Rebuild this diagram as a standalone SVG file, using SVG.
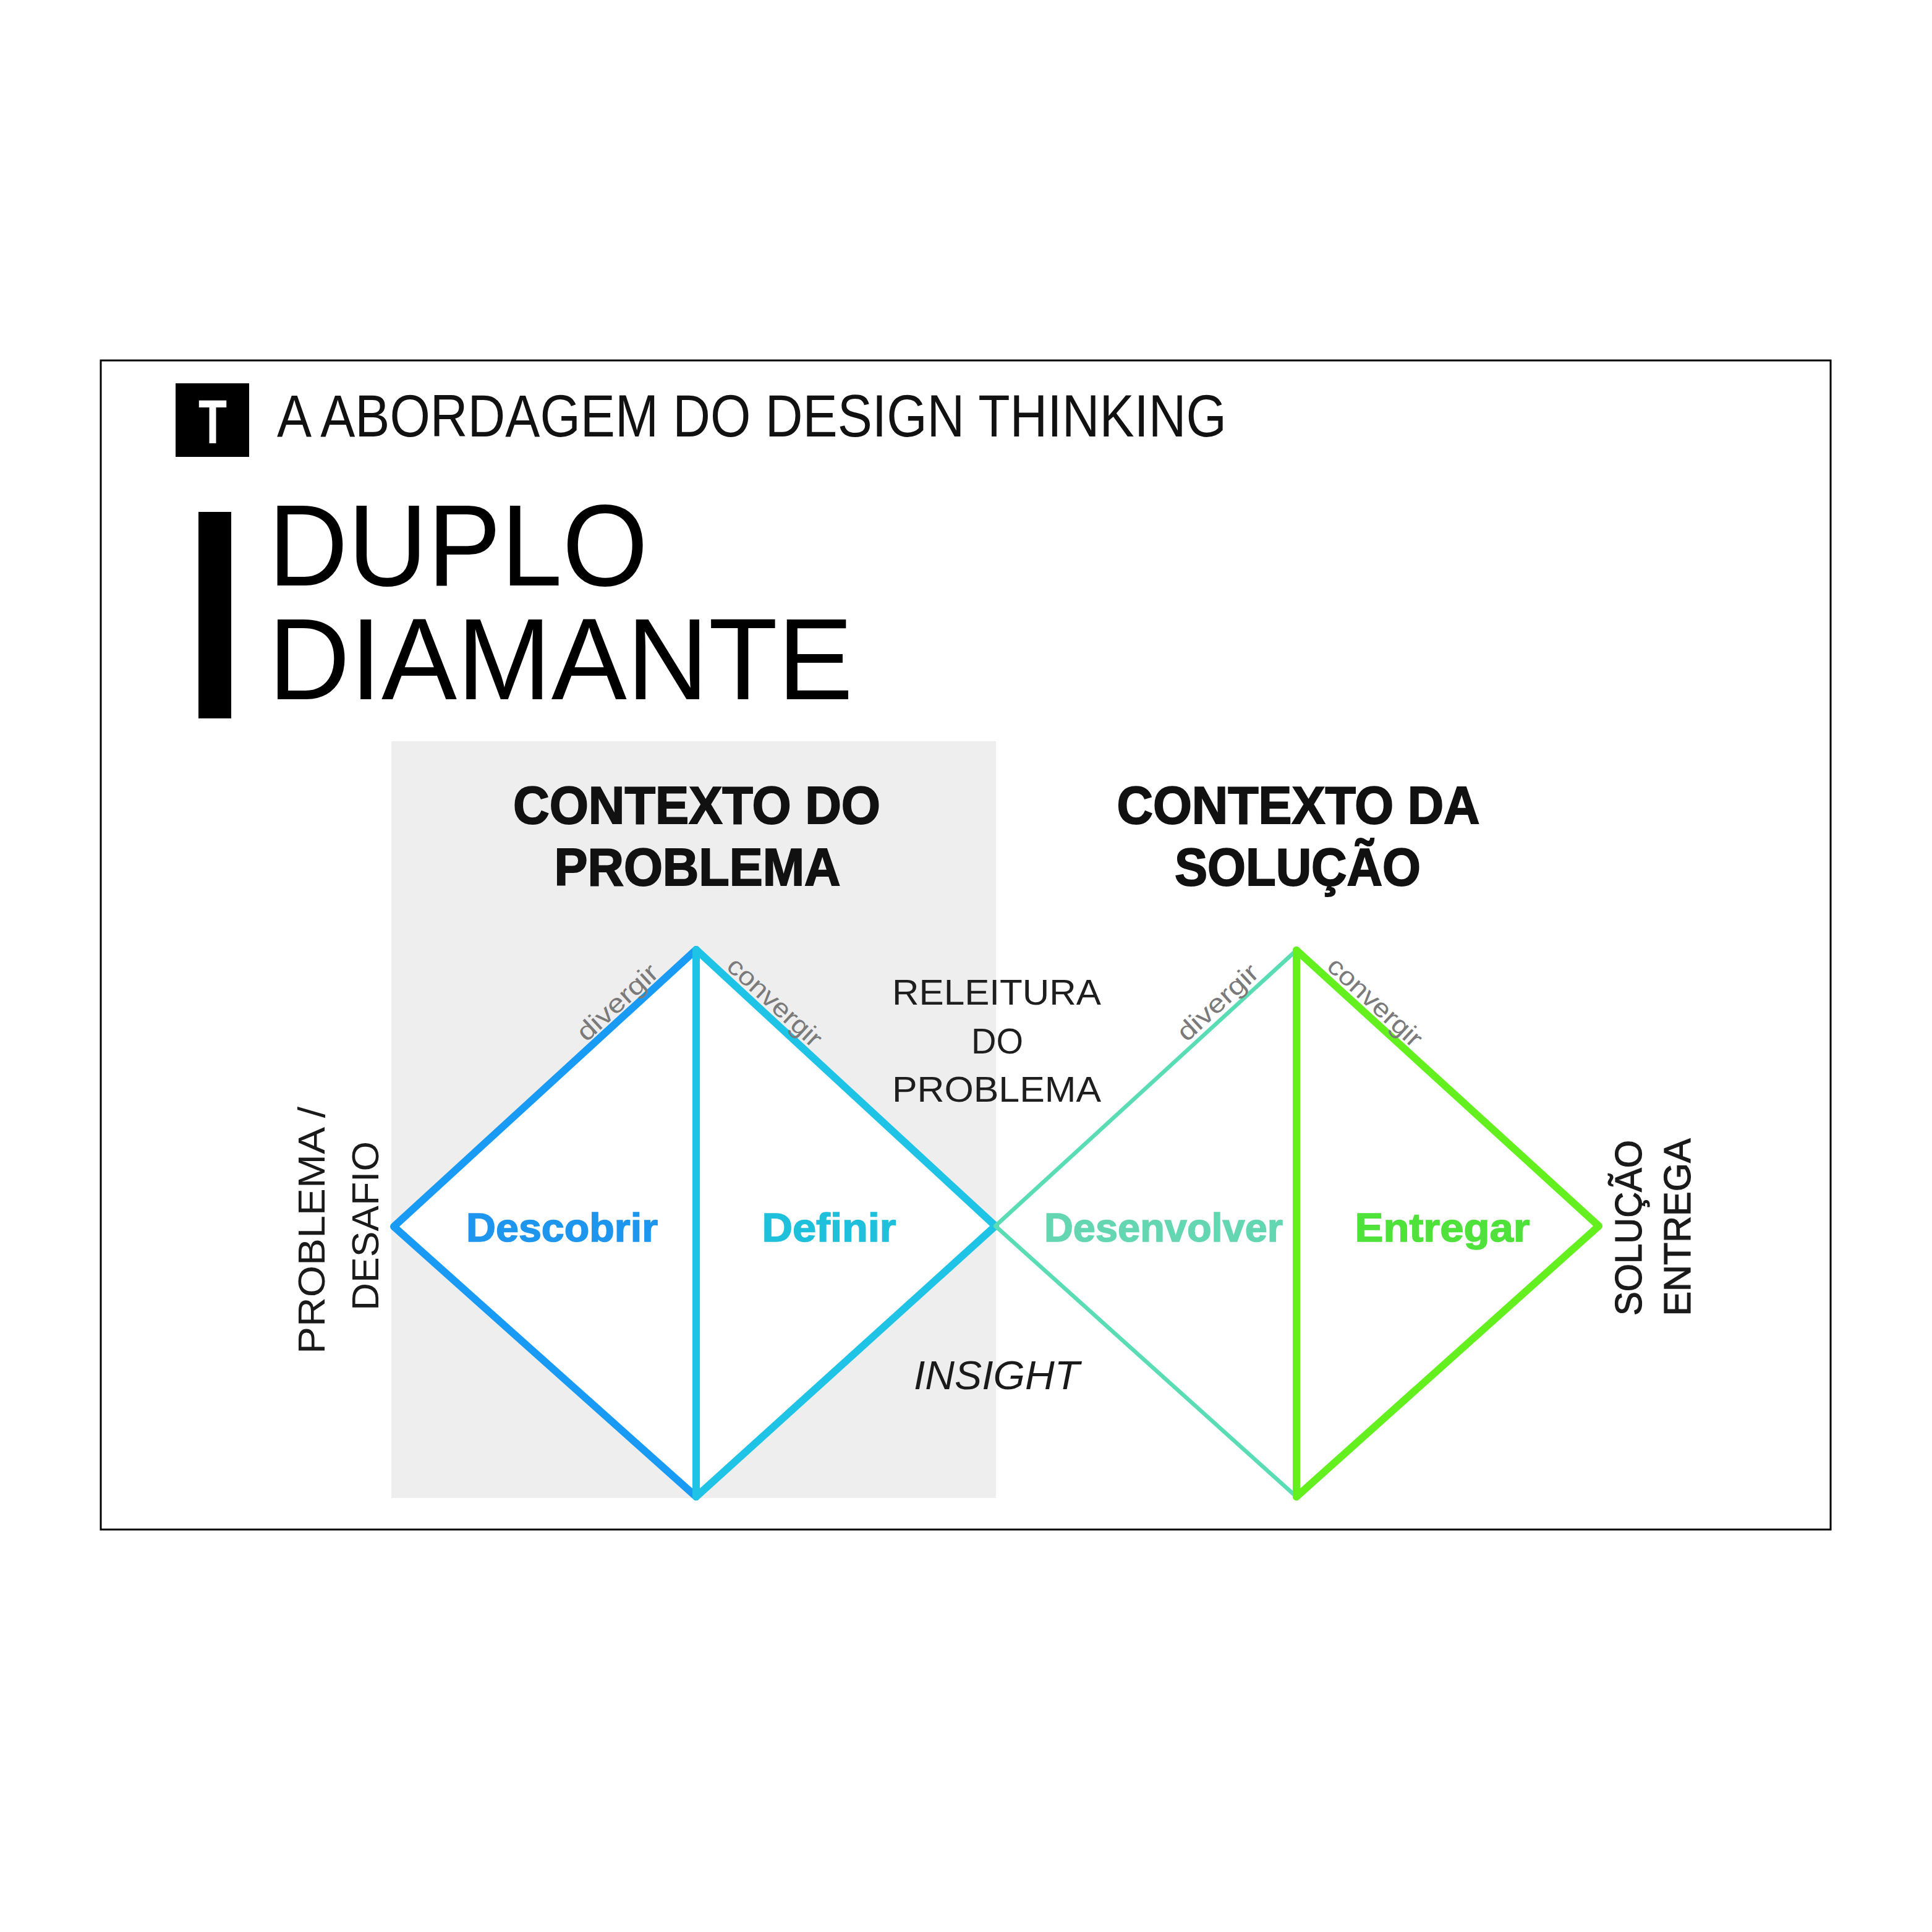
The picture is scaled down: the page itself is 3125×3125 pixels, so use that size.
<svg xmlns="http://www.w3.org/2000/svg" width="3125" height="3125" viewBox="0 0 3125 3125">
  <defs>
    <style>
      .sans { font-family: "Liberation Sans", Arial, sans-serif; }
      .hdr { font-size: 96px; fill: #111; }
      .big { font-size: 188px; fill: #000; }
      .ctx { font-size: 85px; font-weight: bold; fill: #111; stroke: #111; stroke-width: 2; text-anchor: middle; }
      .mid { font-size: 58px; fill: #1e1e1e; text-anchor: middle; }
      .side { font-size: 62px; fill: #1a1a1a; text-anchor: middle; }
      .side-b { font-size: 62px; fill: #1a1a1a; stroke: #1a1a1a; stroke-width: 1.2; text-anchor: middle; }
      .phase { font-size: 64px; font-weight: bold; text-anchor: middle; stroke-width: 1.5; }
      .small { font-size: 42px; fill: #7a7a7a; }
      .thick { fill: none; stroke-width: 12; stroke-linejoin: round; stroke-linecap: round; }
      .thin { fill: none; stroke-width: 6.5; stroke-linejoin: round; stroke-linecap: round; }
    </style>
  </defs>
  <rect x="0" y="0" width="3125" height="3125" fill="#ffffff"/>
  <rect id="frame" x="163" y="583" width="2798" height="1891" fill="#ffffff" stroke="#000" stroke-width="3"/>

  <g id="header">
    <rect x="284" y="620" width="119" height="119" fill="#000"/>
    <text class="sans" x="321" y="717" font-size="100" font-weight="bold" fill="#fff" textLength="46" lengthAdjust="spacingAndGlyphs">T</text>
    <text class="sans hdr" x="448" y="706" textLength="1536" lengthAdjust="spacingAndGlyphs">A ABORDAGEM DO DESIGN THINKING</text>
  </g>

  <g id="title">
    <rect x="321" y="828" width="53" height="334" fill="#000"/>
    <text class="sans big" x="434" y="947" textLength="614" lengthAdjust="spacingAndGlyphs">DUPLO</text>
    <text class="sans big" x="434" y="1131" textLength="946" lengthAdjust="spacingAndGlyphs">DIAMANTE</text>
  </g>

  <rect id="problem-area" x="633" y="1199" width="978" height="1224" fill="#eeeeee"/>

  <g id="context-problem">
    <text class="sans ctx" x="1127" y="1332" textLength="594" lengthAdjust="spacingAndGlyphs">CONTEXTO DO</text>
    <text class="sans ctx" x="1128" y="1432" textLength="463" lengthAdjust="spacingAndGlyphs">PROBLEMA</text>
  </g>
  <g id="context-solution">
    <text class="sans ctx" x="2100" y="1332" textLength="587" lengthAdjust="spacingAndGlyphs">CONTEXTO DA</text>
    <text class="sans ctx" x="2099" y="1432" textLength="398" lengthAdjust="spacingAndGlyphs">SOLUÇÃO</text>
  </g>

  <g id="connectors">
    <polygon points="1126,1536 637,1984 1126,2421 1610,1983" fill="#ffffff"/>
    <polygon points="2097,1537 1610,1983 2097,2421 2586,1983" fill="#ffffff"/>
    <polyline class="thick" stroke="#199bf5" points="1126,1536 637,1984 1126,2421"/>
    <polyline class="thick" stroke="#1ec3e6" points="1126,1536 1610,1983 1126,2421"/>
    <line class="thick" stroke="#1ec3e6" x1="1126" y1="1536" x2="1126" y2="2421"/>
    <polyline class="thin" stroke="#5adcb4" points="2097,1537 1610,1983 2097,2421"/>
    <polyline class="thick" stroke="#64f01e" points="2097,1537 2586,1983 2097,2421"/>
    <line class="thick" stroke="#64f01e" x1="2097" y1="1537" x2="2097" y2="2421"/>
  </g>

  <g id="edge-labels">
    <text class="sans small" text-anchor="end" transform="translate(1068,1577) rotate(-42.5)" textLength="162" lengthAdjust="spacingAndGlyphs">divergir</text>
    <text class="sans small" transform="translate(1173,1566) rotate(42.7)" textLength="192" lengthAdjust="spacingAndGlyphs">convergir</text>
    <text class="sans small" text-anchor="end" transform="translate(2039,1577) rotate(-42.5)" textLength="162" lengthAdjust="spacingAndGlyphs">divergir</text>
    <text class="sans small" transform="translate(2144,1566) rotate(42.7)" textLength="192" lengthAdjust="spacingAndGlyphs">convergir</text>
  </g>

  <g id="descobrir"><text class="sans phase" x="909" y="2008" fill="#1e96ee" stroke="#1e96ee" textLength="310" lengthAdjust="spacingAndGlyphs">Descobrir</text></g>
  <g id="definir"><text class="sans phase" x="1341" y="2008" fill="#1fc0dc" stroke="#1fc0dc" textLength="217" lengthAdjust="spacingAndGlyphs">Definir</text></g>
  <g id="desenvolver"><text class="sans phase" x="1882" y="2008" fill="#64d6b2" stroke="#64d6b2" textLength="386" lengthAdjust="spacingAndGlyphs">Desenvolver</text></g>
  <g id="entregar"><text class="sans phase" x="2333" y="2008" fill="#4ee23a" stroke="#4ee23a" textLength="283" lengthAdjust="spacingAndGlyphs">Entregar</text></g>

  <g id="releitura">
    <text class="sans mid" x="1612" y="1625" textLength="338" lengthAdjust="spacingAndGlyphs">RELEITURA</text>
    <text class="sans mid" x="1613" y="1704" textLength="84" lengthAdjust="spacingAndGlyphs">DO</text>
    <text class="sans mid" x="1612" y="1782" textLength="338" lengthAdjust="spacingAndGlyphs">PROBLEMA</text>
  </g>

  <g id="insight">
    <text class="sans" x="1478" y="2247" font-size="65" font-style="italic" fill="#1a1a1a" textLength="268" lengthAdjust="spacingAndGlyphs">INSIGHT</text>
  </g>

  <g id="problema-desafio">
    <text class="sans side" transform="translate(525,1990) rotate(-90)" textLength="400" lengthAdjust="spacingAndGlyphs">PROBLEMA /</text>
    <text class="sans side" transform="translate(612,1983) rotate(-90)" textLength="274" lengthAdjust="spacingAndGlyphs">DESAFIO</text>
  </g>

  <g id="solucao-entrega">
    <text class="sans side-b" transform="translate(2655,1986) rotate(-90)" textLength="284" lengthAdjust="spacingAndGlyphs">SOLUÇÃO</text>
    <text class="sans side-b" transform="translate(2734,1985) rotate(-90)" textLength="287" lengthAdjust="spacingAndGlyphs">ENTREGA</text>
  </g>
</svg>
